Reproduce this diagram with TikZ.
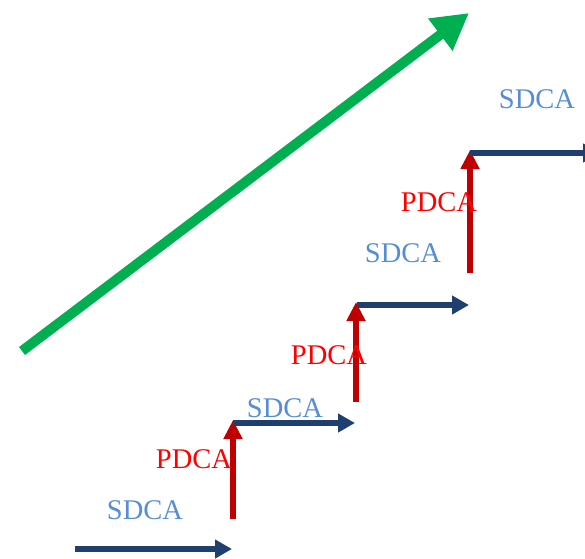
\documentclass[tikz,border=0pt]{standalone}
\usepackage{fontspec}
\setmainfont{Liberation Serif}
\usetikzlibrary{arrows.meta}
\definecolor{navy}{HTML}{1F3F6E}
\definecolor{darkred}{HTML}{C00000}
\definecolor{grn}{HTML}{00B050}
\definecolor{sblue}{HTML}{558ED5}
\definecolor{pred}{HTML}{FF0000}
\tikzset{
  sdarrow/.style={draw=navy, line width=5.5pt, -{Triangle[length=17pt,width=18pt]}},
  pdarrow/.style={draw=darkred, line width=6pt, -{Triangle[length=19pt,width=18pt]}},
  grarrow/.style={draw=grn, line width=10pt, -{Triangle[length=36pt,width=38pt]}},
  slabel/.style={text=sblue, font=\fontsize{28.5}{30}\selectfont, inner sep=0pt},
  plabel/.style={text=pred, font=\fontsize{28.5}{30}\selectfont, inner sep=0pt}
}
\begin{document}
\begin{tikzpicture}[x=1pt,y=-1pt]
\useasboundingbox (0,0) rectangle (585,558);
\clip (0,0) rectangle (585,558);
% coordinates
\coordinate (g0) at (22,351);
\coordinate (g1) at (469,13);
\coordinate (s1a) at (75,549);
\coordinate (s1b) at (232,549);
\coordinate (p1a) at (233,519);
\coordinate (p1b) at (233,420);
\coordinate (s2a) at (233,423);
\coordinate (s2b) at (355,423);
\coordinate (p2a) at (356,402);
\coordinate (p2b) at (356,302);
\coordinate (s3a) at (357,305);
\coordinate (s3b) at (469,305);
\coordinate (p3a) at (470,273);
\coordinate (p3b) at (470,150);
\coordinate (s4a) at (470,153);
\coordinate (s4b) at (600,153);
% arrows
\draw[grarrow] (g0) -- (g1);
\draw[pdarrow] (p1a) -- (p1b);
\draw[pdarrow] (p2a) -- (p2b);
\draw[pdarrow] (p3a) -- (p3b);
\draw[sdarrow] (s1a) -- (s1b);
\draw[sdarrow] (s2a) -- (s2b);
\draw[sdarrow] (s3a) -- (s3b);
\draw[sdarrow] (s4a) -- (s4b);
% labels
\node[slabel] (t1) at (145,510.5) {SDCA};
\node[plabel] (t2) at (194,459) {PDCA};
\node[slabel] (t3) at (285,408) {SDCA};
\node[plabel] (t4) at (329,355) {PDCA};
\node[slabel] (t5) at (403,253.5) {SDCA};
\node[plabel] (t6) at (439,202) {PDCA};
\node[slabel] (t7) at (537,99) {SDCA};
\end{tikzpicture}
\end{document}
